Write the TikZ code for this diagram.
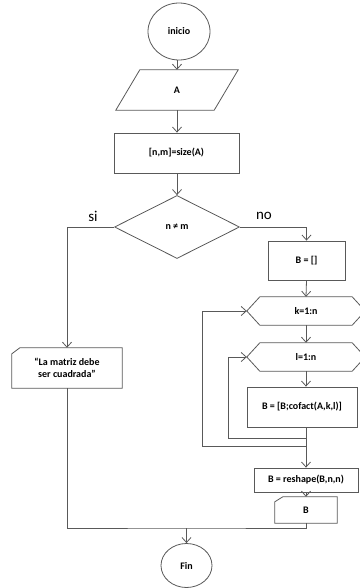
\documentclass[tikz,border=0pt]{standalone}
\usepackage{fontspec}
\setmainfont{Carlito}
\usetikzlibrary{arrows.meta,shapes.geometric}
\begin{document}
\begin{tikzpicture}[x=1pt,y=-1pt,
  edge/.style={draw=black!65,line width=0.8pt},
  flow/.style={edge},
  arr/.style={edge,-{Straight Barb[length=5pt,width=9pt]}},
  txt/.style={inner sep=0pt,font=\bfseries\fontsize{10}{12}\selectfont},
  proc/.style={txt,draw=black!65,line width=0.8pt,rectangle},
  term/.style={txt,draw=black!65,line width=0.8pt,ellipse},
  cond/.style={txt,draw=black!65,line width=0.8pt,diamond},
  answer/.style={font=\fontsize{15}{18}\selectfont,inner sep=0pt}]
\useasboundingbox (0,0) rectangle (359,588);

% start
\node[term,minimum width=62,minimum height=57] (ini) at (179,31.5) {inicio};

% input A (parallelogram)
\node[txt,minimum width=122,minimum height=40] (A) at (177,90) {A};
\draw[edge] (A.south west) -- ([xshift=-24pt]A.south east) -- (A.north east)
  -- ([xshift=24pt]A.north west) -- cycle;

% size
\node[proc,minimum width=125,minimum height=40] (sz) at (176.5,153) {[n,m]=size(A)};

% decision
\node[cond,minimum width=125,minimum height=63] (dec) at (177,227) {n ≠ m};
\node[answer] (si) at (93,216) {si};
\node[answer] (no) at (264,216) {no};

% message (card)
\node[txt,minimum width=110,minimum height=40,align=center] (msg) at (67,368)
  {“La matriz debe\\ser cuadrada”};
\draw[edge] ([yshift=-6pt]msg.north west) -- ([xshift=8pt]msg.north west)
  -- (msg.north east) -- (msg.south east) -- (msg.south west) -- cycle;

% right column
\node[proc,minimum width=77,minimum height=39] (b0) at (306.5,260.5) {B = []};

\node[txt,minimum width=118,minimum height=28] (k) at (306,311) {k=1:n};
\draw[edge] (k.west) -- ([xshift=13pt]k.north west) -- ([xshift=-13pt]k.north east)
  -- (k.east) -- ([xshift=-13pt]k.south east) -- ([xshift=13pt]k.south west) -- cycle;

\node[txt,minimum width=118,minimum height=28] (l) at (306,357) {l=1:n};
\draw[edge] (l.west) -- ([xshift=13pt]l.north west) -- ([xshift=-13pt]l.north east)
  -- (l.east) -- ([xshift=-13pt]l.south east) -- ([xshift=13pt]l.south west) -- cycle;

\node[proc,minimum width=110,minimum height=40] (cof) at (302,407) {B = [B;cofact(A,k,l)]};

\node[proc,minimum width=104,minimum height=24] (resh) at (306,480) {B = reshape(B,n,n)};

\node[txt,minimum width=62,minimum height=26] (out) at (306,510) {B};
\draw[edge] ([yshift=-5pt]out.north west) -- ([xshift=8pt]out.north west)
  -- (out.north east) -- (out.south east) -- (out.south west) -- cycle;

% end
\node[term,minimum width=51,minimum height=44] (fin) at (186.5,565.5) {Fin};

% connectors
\draw[arr] (ini.south -| A.north) -- (A.north);
\draw[arr] (A.south) -- (A.south |- sz.north);
\draw[arr] (sz.south -| dec.north) -- (dec.north);
\draw[arr] (dec.west) -| (msg.north);
\draw[arr] (dec.east) -| (b0.north);
\draw[arr] (b0.south) -- (k.north);
\draw[arr] (k.south) -- (l.north);
\draw[arr] (l.south) -- (l.south |- cof.north);
\draw[arr] (cof.south -| resh.north) -- (resh.north);
\draw[arr] (resh.south) -- (out.north);

% loop returns
\coordinate (m1) at (306,438);
\coordinate (m2) at (306,446);
\draw[arr] (m1) -- ++(-78,0) |- (l.west);
\draw[arr] (m2) -- ++(-104,0) |- (k.west);

% join towards the end
\coordinate (j) at (186.5,528);
\draw[flow] (msg.south) |- (j) -| (out.south);
\draw[arr] (j) -- (fin.north);
\end{tikzpicture}
\end{document}
